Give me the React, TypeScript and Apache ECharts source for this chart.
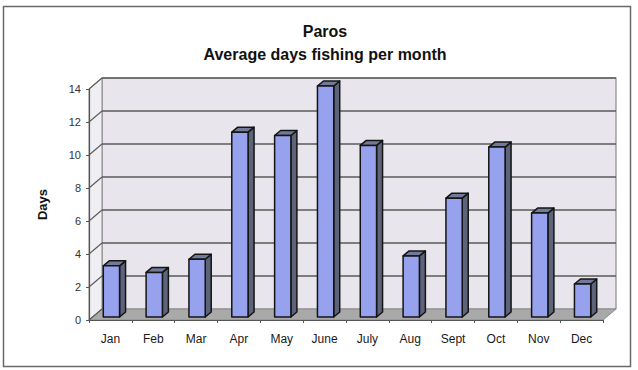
import React, { useEffect, useRef } from "react";
import * as echarts from "echarts";

const months = ["Jan", "Feb", "Mar", "Apr", "May", "June", "July", "Aug", "Sept", "Oct", "Nov", "Dec"];
const days = [3.1, 2.7, 3.5, 11.2, 11.0, 14.0, 10.4, 3.7, 7.2, 10.3, 6.3, 2.0];
const yTicks = [0, 2, 4, 6, 8, 10, 12, 14];
const titleLine1 = "Paros";
const titleLine2 = "Average days fishing per month";
const yName = "Days";

const WALL_DX = 13;
const WALL_DY = -11;
const BAR_DX = 6;
const BAR_DY = -5;

export default function App() {
  const ref = useRef<HTMLDivElement>(null);
  useEffect(() => {
    if (!ref.current) return;
    const chart = echarts.init(ref.current, null, { renderer: "svg" });

    const frameRender = (params: any, api: any) => {
      const cs = params.coordSys;
      const x0 = cs.x;
      const x1 = cs.x + cs.width;
      const yBot = api.coord([0, 0])[1];
      const yTop = api.coord([0, 14])[1];
      const children: any[] = [];
      children.push({
        type: "polygon",
        shape: {
          points: [
            [x0 + WALL_DX, yTop + WALL_DY],
            [x1 + WALL_DX, yTop + WALL_DY],
            [x1 + WALL_DX, yBot + WALL_DY],
            [x0 + WALL_DX, yBot + WALL_DY],
          ],
        },
        style: { fill: "#e8e6ec", stroke: "#8a8a8a", lineWidth: 1.2 },
      });
      children.push({
        type: "polygon",
        shape: {
          points: [
            [x0, yTop],
            [x0 + WALL_DX, yTop + WALL_DY],
            [x0 + WALL_DX, yBot + WALL_DY],
            [x0, yBot],
          ],
        },
        style: { fill: "#efeef2", stroke: "#8a8a8a", lineWidth: 1 },
      });
      children.push({
        type: "polygon",
        shape: {
          points: [
            [x0, yBot],
            [x1, yBot],
            [x1 + WALL_DX, yBot + WALL_DY],
            [x0 + WALL_DX, yBot + WALL_DY],
          ],
        },
        style: { fill: "#a9a9a9", stroke: "#8a8a8a", lineWidth: 1 },
      });
      yTicks.forEach((v) => {
        const y = api.coord([0, v])[1];
        if (v > 0) {
          children.push({
            type: "line",
            shape: { x1: x0 + WALL_DX, y1: y + WALL_DY, x2: x1 + WALL_DX, y2: y + WALL_DY },
            style: { stroke: "#5a5a5a", lineWidth: 1.3 },
          });
        }
        children.push({
          type: "line",
          shape: { x1: x0, y1: y, x2: x0 + WALL_DX, y2: y + WALL_DY },
          style: { stroke: "#5a5a5a", lineWidth: 1.1 },
        });
      });
      return { type: "group", children };
    };

    const barRender = (params: any, api: any) => {
      const i = api.value(0);
      const v = api.value(1);
      const p0 = api.coord([i, 0]);
      const p1 = api.coord([i, v]);
      const band = api.size([1, 0])[0];
      const w = band * 0.38;
      const fx = p0[0] - w / 2 + 1;
      const fy0 = p0[1] - 3;
      const fy1 = p1[1] - 3;
      const stroke = { stroke: "#141414", lineWidth: 1.5, lineJoin: "round" };
      return {
        type: "group",
        children: [
          {
            type: "polygon",
            shape: {
              points: [
                [fx + w, fy1],
                [fx + w + BAR_DX, fy1 + BAR_DY],
                [fx + w + BAR_DX, fy0 + BAR_DY],
                [fx + w, fy0],
              ],
            },
            style: { fill: "#5d6379", ...stroke },
          },
          {
            type: "polygon",
            shape: {
              points: [
                [fx, fy1],
                [fx + BAR_DX, fy1 + BAR_DY],
                [fx + w + BAR_DX, fy1 + BAR_DY],
                [fx + w, fy1],
              ],
            },
            style: { fill: "#737a98", ...stroke },
          },
          {
            type: "rect",
            shape: { x: fx, y: fy1, width: w, height: fy0 - fy1 },
            style: { fill: "#96a2ee", ...stroke },
          },
        ],
      };
    };

    chart.setOption({
      animation: false,
      grid: { left: 89, top: 89, width: 514, height: 231, containLabel: false },
      graphic: [
        {
          type: "rect",
          shape: { x: 3.5, y: 6.5, width: 627, height: 360 },
          style: { fill: "none", stroke: "#6a6a6a", lineWidth: 1.5 },
          z: -10,
        },
        {
          type: "text",
          x: 325,
          y: 31,
          style: {
            text: titleLine1,
            font: "bold 16px 'Liberation Sans', Arial, sans-serif",
            fill: "#111",
            textAlign: "center",
            textVerticalAlign: "middle",
          },
        },
        {
          type: "text",
          x: 325,
          y: 54,
          style: {
            text: titleLine2,
            font: "bold 16px 'Liberation Sans', Arial, sans-serif",
            fill: "#111",
            textAlign: "center",
            textVerticalAlign: "middle",
          },
        },
      ],
      xAxis: {
        type: "category",
        data: months,
        axisLine: { show: true, lineStyle: { color: "#555", width: 1.2 } },
        axisTick: { show: true, length: 3, lineStyle: { color: "#555" } },
        axisLabel: {
          color: "#1a1a1a",
          fontSize: 12,
          fontFamily: "'Liberation Sans', Arial, sans-serif",
          margin: 13,
        },
        splitLine: { show: false },
      },
      yAxis: {
        type: "value",
        min: 0,
        max: 14,
        interval: 2,
        name: yName,
        nameLocation: "middle",
        nameRotate: 90,
        nameGap: 40,
        nameTextStyle: {
          fontWeight: "bold",
          fontSize: 13,
          color: "#111",
          fontFamily: "'Liberation Sans', Arial, sans-serif",
        },
        axisLine: { show: true, lineStyle: { color: "#555", width: 1.2 } },
        axisTick: { show: true, length: 3, lineStyle: { color: "#555" } },
        axisLabel: {
          color: "#333",
          fontSize: 11,
          fontFamily: "'Liberation Sans', Arial, sans-serif",
          margin: 8,
        },
        splitLine: { show: false },
      },
      series: [
        {
          type: "custom",
          name: "frame",
          renderItem: frameRender,
          data: [[0, 0]],
          clip: false,
          silent: true,
          z: 0,
        },
        {
          type: "custom",
          name: yName,
          renderItem: barRender,
          data: days.map((v, i) => [i, v]),
          clip: false,
          z: 3,
        },
      ],
    });
    return () => chart.dispose();
  }, []);
  return (
    <div
      ref={ref}
      style={{ position: "fixed", left: 0, top: 0, width: 638, height: 370, background: "#fff" }}
    />
  );
}
